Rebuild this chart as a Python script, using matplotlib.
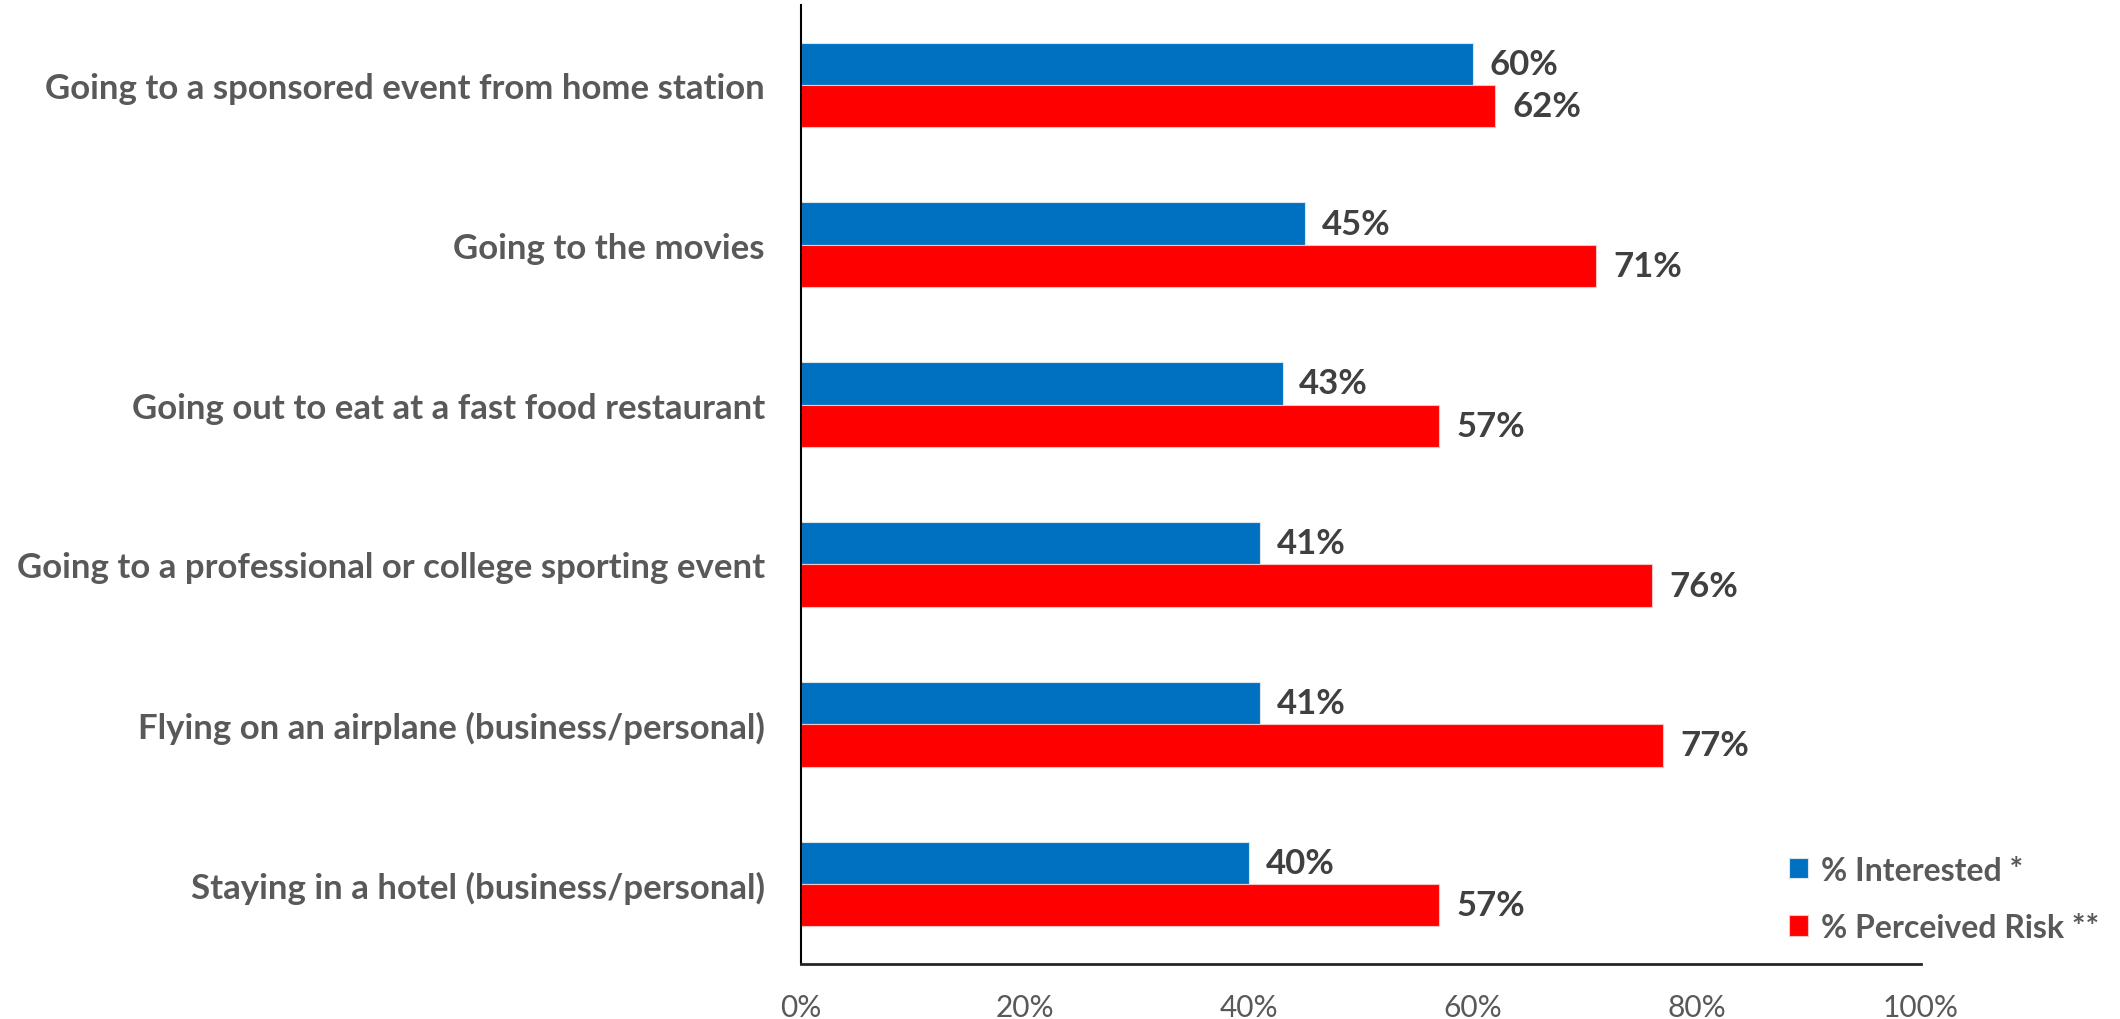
import matplotlib.pyplot as plt
import numpy as np

# Survey results: interest vs perceived risk per activity (top to bottom)
activities = [
    "Going to a sponsored event from home station",
    "Going to the movies",
    "Going out to eat at a fast food restaurant",
    "Going to a professional or college sporting event",
    "Flying on an airplane (business/personal)",
    "Staying in a hotel (business/personal)",
]
interested = [60, 45, 43, 41, 41, 40]
perceived_risk = [62, 71, 57, 76, 77, 57]
ticks = [0, 20, 40, 60, 80, 100]

plt.rcParams['font.family'] = ['Lato', 'DejaVu Sans']

fig = plt.figure(figsize=(21.2, 10.2), dpi=100)
ax = fig.add_axes([0.3778, 0.0539, 0.5283, 0.9402])

y = np.arange(len(activities))
h = 0.265
ax.barh(y - h / 2, interested, height=h, color='#0070C0', edgecolor='#d9e6f2',
        linewidth=0.8, label='% Interested *')
ax.barh(y + h / 2, perceived_risk, height=h, color='#FF0000', edgecolor='#f4c4c4',
        linewidth=0.8, label='% Perceived Risk **')

# value labels just past the bar ends
for yi, v in zip(y, interested):
    ax.text(v + 1.5, yi - h / 2, f'{v}%', va='center', ha='left', fontsize=25,
            fontweight='bold', color='#404040')
for yi, v in zip(y, perceived_risk):
    ax.text(v + 1.5, yi + h / 2, f'{v}%', va='center', ha='left', fontsize=25,
            fontweight='bold', color='#404040')

ax.set_xlim(0, 100)
ax.set_ylim(len(activities) - 0.5, -0.5)
ax.set_yticks(y)
ax.set_yticklabels(activities, fontsize=25, fontweight='bold', color='#595959')
ax.set_xticks(ticks)
ax.set_xticklabels([f'{t}%' for t in ticks], fontsize=21.5, color='#595959')
ax.tick_params(axis='y', length=0, pad=26)
ax.tick_params(axis='x', length=0, pad=21)

for s in ['top', 'right']:
    ax.spines[s].set_visible(False)
ax.spines['left'].set_color('black')
ax.spines['bottom'].set_color('#262626')
ax.spines['left'].set_linewidth(1.5)
ax.spines['bottom'].set_linewidth(2)

leg = ax.legend(loc='center left', bbox_to_anchor=(0.8439, 0.118),
                bbox_transform=fig.transFigure, frameon=False,
                fontsize=23, handlelength=0.6, handleheight=0.6,
                handletextpad=0.4, labelspacing=0.88,
                borderpad=0, borderaxespad=0)
for t in leg.get_texts():
    t.set_color('#595959')
    t.set_fontweight('bold')

fig.savefig('out.png', dpi=100)
